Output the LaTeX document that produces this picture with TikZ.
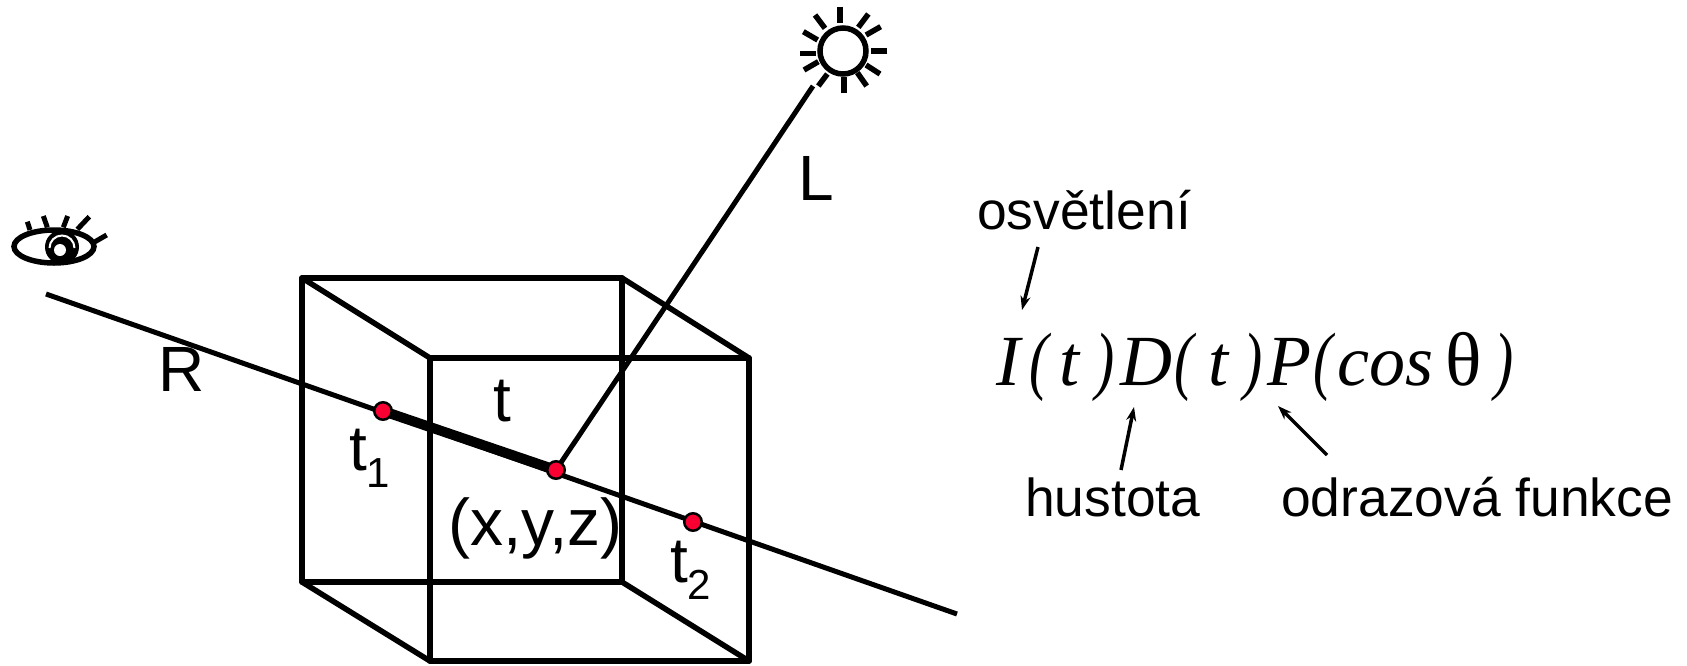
\documentclass[tikz,border=0pt]{standalone}
\usepackage{fontspec}
\setmainfont{Liberation Sans}
\newfontfamily\timesfont{Liberation Serif}
\usetikzlibrary{arrows.meta}
\definecolor{dotred}{RGB}{250,0,50}
\tikzset{
  edge/.style={line width=5.5pt,line cap=round,line join=round},
  ray/.style={line width=5pt},
  pt/.style={circle,draw=black,line width=2.5pt,fill=dotred,minimum size=17.5pt,inner sep=0pt},
  lbl/.style={anchor=base west,inner sep=0pt,font=\fontsize{64}{64}\selectfont},
  lxy/.style={anchor=base west,inner sep=0pt,font=\fontsize{66}{66}\selectfont},
  lbr/.style={anchor=base west,inner sep=0pt,font=\fontsize{53.4}{53.4}\selectfont},
  fml/.style={anchor=base west,inner sep=0pt,font=\timesfont\itshape\fontsize{72}{72}\selectfont},
  fmlup/.style={anchor=base west,inner sep=0pt,font=\timesfont\fontsize{76}{76}\selectfont},
  pointer/.style={line width=3.5pt,-{Stealth[length=14pt,width=10pt]}},
  lash/.style={line width=5pt},
  sunray/.style={line width=5.5pt}
}
\newcommand{\subs}[1]{{\fontsize{42}{42}\selectfont\raisebox{-17pt}{#1}}}
\newcommand{\tallp}[1]{\scalebox{0.8}[1.05]{#1}}
\begin{document}
\begin{tikzpicture}[x=1pt,y=-1pt]
\useasboundingbox (0,0) rectangle (1687,665);
% cube
\coordinate (b1) at (302,278); \coordinate (b2) at (622,278);
\coordinate (b3) at (622,582); \coordinate (b4) at (302,582);
\coordinate (f1) at (430,358); \coordinate (f2) at (749,358);
\coordinate (f3) at (749,661); \coordinate (f4) at (430,661);
\draw[edge] (b1)--(b2)--(b3)--(b4)--cycle;
\draw[edge] (f1)--(f2)--(f3)--(f4)--cycle;
\draw[edge] (b1)--(f1) (b2)--(f2) (b3)--(f3) (b4)--(f4);
% rays
\coordinate (rs) at (46,294); \coordinate (re) at (957,614);
\coordinate (le) at (813,86);
\coordinate (p1) at (383,411); \coordinate (p2) at (556,470); \coordinate (p3) at (693,522);
\draw[ray] (rs)--(re);
\draw[ray] (p2)--(le);
\draw[line width=10pt] (p1)--(p2);
\node[pt] (n1) at (p1) {};
\node[pt] (n2) at (p2) {};
\node[pt] (n3) at (p3) {};
% labels
\node[lbl] (lR) at (158,391) {R};
\node[lbl] (lL) at (798,200) {L};
\node[lbl] (lt) at (493,421) {t};
\node[lbl] (lt1) at (349,470) {t\subs{1}};
\node[lbl] (lt2) at (670,582) {t\subs{2}};
\node[lxy] (lxyz) at (448,545) {(x,y,z)};
\node[lbr] (losv) at (977,229) {osvětlení};
\node[lbr] (lhus) at (1025,516) {hustota};
\node[lbr] (lodr) at (1281,516) {odrazová funkce};
% formula
\node[fml] (fI) at (996,385) {I};
\node[fml] (fa) at (1029,385) {\tallp{(}};
\node[fml] (ft) at (1059,385) {t};
\node[fml] (fb) at (1095,385) {\tallp{)}};
\node[fml] (fD) at (1120,385) {D};
\node[fml] (fc) at (1174,385) {\tallp{(}};
\node[fml] (fu) at (1208,385) {t};
\node[fml] (fd) at (1243,385) {\tallp{)}};
\node[fml] (fP) at (1267,385) {P};
\node[fml] (fe) at (1313,385) {\tallp{(}};
\node[fml] (fcos) at (1337,385) {cos};
\node[fmlup] (fth) at (1445,385) {θ};
\node[fml] (ff) at (1494,385) {\tallp{)}};
% pointers
\coordinate (a1s) at (1038,247); \coordinate (a1e) at (1022,310);
\coordinate (a2s) at (1121,470); \coordinate (a2e) at (1134,407);
\coordinate (a3s) at (1327,455); \coordinate (a3e) at (1278,406);
\draw[pointer] (a1s)--(a1e);
\draw[pointer] (a2s)--(a2e);
\draw[pointer] (a3s)--(a3e);
% sun
\draw[line width=5.5pt] (843,51) circle (23);
\foreach \xa/\ya/\xb/\yb in {180/20/180/68,265/42/235/82,302/80/258/105,322/153/273/153,300/222/258/195,260/258/232/218,192/280/192/232,115/258/142/222,72/210/115/185,60/160/108/160,70/95/113/120,105/45/135/85}
  \draw[sunray] ({780+\xa/3},{\ya/3}) -- ({780+\xb/3},{\yb/3});
% eye
\draw[line width=5.5pt] (54,246.5) ellipse (40 and 16.5);
\fill[black] (62,247) circle (17);
\draw[white,line width=2pt] (49.5,248) arc[start angle=180,end angle=0,radius=12.5pt];
\fill[white] (60,250) circle (6);
\foreach \xa/\ya/\xb/\yb in {82/95/90/120,130/78/142/112,203/78/190/112,268/80/232/118,320/135/280/158}
  \draw[lash] ({\xa/3},{190+\ya/3}) -- ({\xb/3},{190+\yb/3});
\end{tikzpicture}
\end{document}
